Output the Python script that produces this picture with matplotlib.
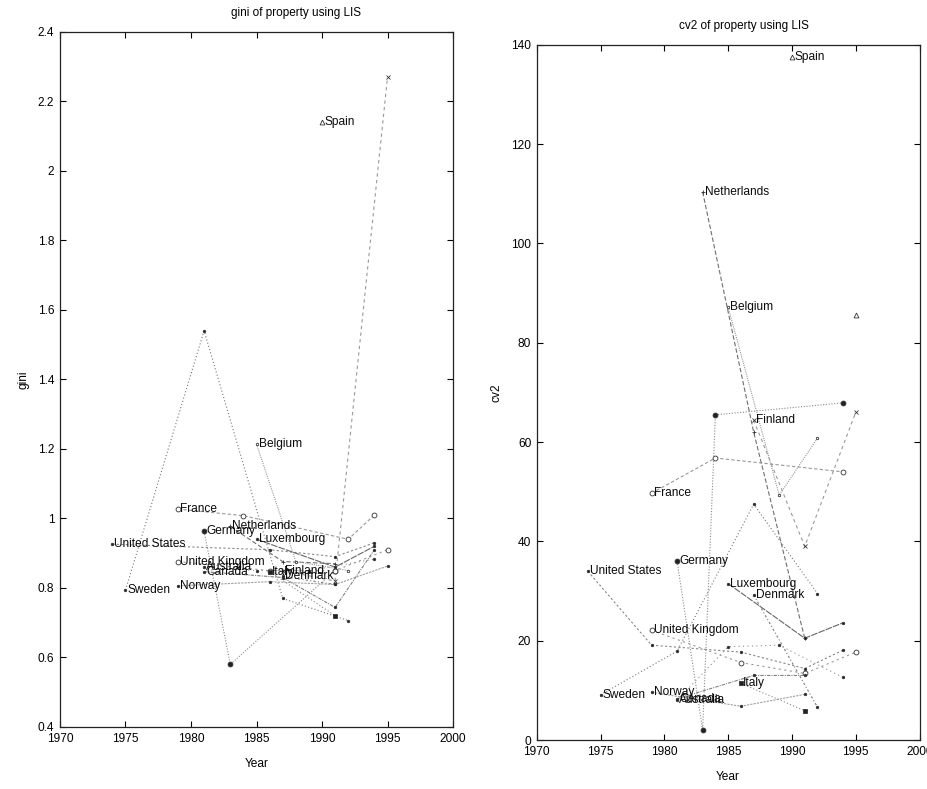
import matplotlib
matplotlib.use("Agg")
import matplotlib.pyplot as plt
from matplotlib.ticker import FuncFormatter

plt.rcParams['font.family'] = ['Liberation Sans', 'DejaVu Sans']

countries = ["United States", "Sweden", "France", "Germany", "Netherlands",
             "Luxembourg", "United Kingdom", "Australia", "Canada", "Norway",
             "Italy", "Finland", "Denmark", "Belgium", "Spain"]

# gini of property (left panel)
gini_years = [[1974, 1986, 1991, 1994],
              [1975, 1981, 1987, 1992],
              [1979, 1984, 1992, 1994],
              [1981, 1983, 1991],
              [1983, 1987, 1991],
              [1985, 1991, 1994],
              [1979, 1986, 1991, 1995],
              [1981, 1985, 1989, 1994],
              [1981, 1987, 1991, 1994],
              [1979, 1986, 1991, 1995],
              [1986, 1991],
              [1987, 1991, 1995],
              [1987, 1991],
              [1985, 1988, 1992],
              [1990]]
gini_vals = [[0.926, 0.91, 0.89, 0.93],
             [0.794, 1.54, 0.77, 0.706],
             [1.027, 1.008, 0.94, 1.01],
             [0.963, 0.58, 0.85],
             [0.977, 0.876, 0.87],
             [0.94, 0.86, 0.92],
             [0.876, 0.85, 0.85, 0.91],
             [0.86, 0.85, 0.85, 0.883],
             [0.847, 0.83, 0.744, 0.91],
             [0.806, 0.818, 0.81, 0.863],
             [0.847, 0.72],
             [0.85, 0.82, 2.27],
             [0.833, 0.81],
             [1.214, 0.876, 0.85],
             [2.14]]

# cv2 of property (right panel)
cv2_years = [[1974, 1979, 1986, 1991, 1994],
             [1975, 1981, 1987, 1992],
             [1979, 1984, 1994],
             [1981, 1983, 1984, 1994],
             [1983, 1987, 1991],
             [1985, 1991, 1994],
             [1979, 1986, 1991, 1995],
             [1981, 1985, 1989, 1994],
             [1981, 1987, 1991],
             [1979, 1986, 1991],
             [1986, 1991],
             [1987, 1991, 1995],
             [1987, 1992],
             [1985, 1989, 1992],
             [1990, 1995]]
cv2_vals = [[34.0, 19.1, 17.7, 14.4, 18.1],
            [9.1, 17.9, 47.5, 29.5],
            [49.7, 56.8, 54.0],
            [36.0, 2.0, 65.5, 67.9],
            [110.4, 62.0, 20.5],
            [31.5, 20.5, 23.6],
            [22.1, 15.6, 13.4, 17.7],
            [8.0, 18.8, 19.1, 12.6],
            [8.3, 13.0, 13.0],
            [9.6, 6.8, 9.2],
            [11.4, 5.9],
            [64.4, 39.0, 66.0],
            [29.2, 6.6],
            [87.2, 49.3, 60.8],
            [137.6, 85.6]]

markers = ['.', '.', 'o', 'o', '+', '.', 'o', '.', '.', '.', 's', 'x', '.', '.', '^']
filled = [True, True, False, True, True, True, False, True, True, True, True, True, True, False, False]
dashes = [(2, 2), (1, 2), (3, 2), (1, 1.5), (4, 2), (6, 1), (2, 3), (1, 3),
          (3, 1, 1, 1), (2, 1), (1, 2), (3, 3), (2, 2, 1, 2), (1, 1), None]
greys = ['#888888', '#777777', '#999999', '#8a8a8a', '#6f6f6f', '#666666', '#9a9a9a',
         '#909090', '#808080', '#a0a0a0', '#888888', '#999999', '#7a7a7a', '#999999', '#aaaaaa']


def draw_panel(ax, years, vals, title, title_x, ylabel, ylim, yticks):
    for i, name in enumerate(countries):
        xs, ys = years[i], vals[i]
        if dashes[i] is not None and len(xs) > 1:
            ax.plot(xs, ys, color=greys[i], lw=0.8, dashes=dashes[i], zorder=1)
        face = '#222222' if filled[i] else 'white'
        ax.plot(xs, ys, linestyle='none', marker=markers[i], ms=3.5,
                mfc=face, mec='#333333', mew=0.6, zorder=2)
        ax.annotate(name, (xs[0], ys[0]), xytext=(1.5, 0), textcoords='offset points',
                    fontsize=8.6, color='#0a0a0a', va='center', ha='left', zorder=3)
    ax.set_xlim(1970, 2000)
    ax.set_ylim(*ylim)
    ax.set_xticks(range(1970, 2001, 5))
    ax.set_yticks(yticks)
    ax.yaxis.set_major_formatter(FuncFormatter(lambda v, p: '%g' % round(v, 2)))
    ax.tick_params(direction='in', top=True, right=True, labelsize=8.6, length=4,
                   width=0.8, pad=4)
    for s in ax.spines.values():
        s.set_linewidth(0.9)
        s.set_color('#222222')
    ax.text(title_x, 1.018, title, transform=ax.transAxes, fontsize=8.5,
            ha='center', va='bottom')
    ax.set_xlabel('Year', fontsize=8.6, labelpad=10)
    ax.set_ylabel(ylabel, fontsize=8.6, labelpad=6)


fig = plt.figure(figsize=(9.27, 7.89), dpi=100)
ax1 = fig.add_axes([0.0647, 0.0786, 0.424, 0.881])
ax2 = fig.add_axes([0.579, 0.0621, 0.413, 0.881])

draw_panel(ax1, gini_years, gini_vals, 'gini of property using LIS', 0.6, 'gini',
           (0.4, 2.4), [0.4 + 0.2 * k for k in range(11)])
draw_panel(ax2, cv2_years, cv2_vals, 'cv2 of property using LIS', 0.54, 'cv2',
           (0, 140), range(0, 141, 20))

fig.savefig('out.png', dpi=100)
